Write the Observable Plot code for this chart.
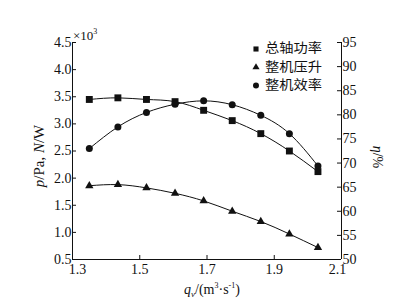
<!DOCTYPE html>
<html>
<head>
<meta charset="utf-8">
<script src="https://cdn.jsdelivr.net/npm/d3@7"></script>
<script src="https://cdn.jsdelivr.net/npm/@observablehq/plot@0.6"></script>
<style>
  html, body { margin: 0; padding: 0; background: #fff; }
  #chart { width: 398px; height: 304px; }
  #chart svg text { font-family: 'Liberation Serif', 'Times New Roman', serif; }
  #chart svg g.legend text { font-family: 'Noto Sans CJK SC', sans-serif; }
</style>
</head>
<body>
<div id="chart"></div>
<script>
// ---- data ----
const flow = [1.35, 1.435, 1.52, 1.605, 1.69, 1.775, 1.86, 1.945, 2.03];          // q_v, m3/s
const shaftPower = [3.45, 3.48, 3.45, 3.41, 3.25, 3.06, 2.82, 2.50, 2.12];         // x10^3 W
const pressureRise = [1.86, 1.88, 1.82, 1.72, 1.58, 1.39, 1.20, 0.97, 0.72];       // x10^3 Pa
const efficiency = [73.0, 77.5, 80.5, 82.2, 82.9, 82.1, 79.9, 76.1, 69.4];         // %
const seriesNames = ["总轴功率", "整机压升", "整机效率"];
const seriesSymbols = ["square", "triangle", "circle"];
const xDomain = [1.3, 2.1];
const xTicks = [1.3, 1.5, 1.7, 1.9, 2.1];
const yDomain = [0.5, 4.5];
const yTicks = [0.5, 1.0, 1.5, 2.0, 2.5, 3.0, 3.5, 4.0, 4.5];
const effDomain = [50, 95];
const effTicks = [50, 55, 60, 65, 70, 75, 80, 85, 90, 95];

// map efficiency onto the left scale
const toLeft = e => yDomain[0] + (e - effDomain[0]) * (yDomain[1] - yDomain[0]) / (effDomain[1] - effDomain[0]);
const fromLeft = v => effDomain[0] + (v - yDomain[0]) * (effDomain[1] - effDomain[0]) / (yDomain[1] - yDomain[0]);

const power = flow.map((q, i) => ({q, v: shaftPower[i]}));
const pres = flow.map((q, i) => ({q, v: pressureRise[i]}));
const eff = flow.map((q, i) => ({q, v: toLeft(efficiency[i])}));

const W = 398, H = 304, mL = 72, mR = 57, mT = 42, mB = 45;
const innerW = W - mL - mR, innerH = H - mT - mB;
const tickLen = 4;
const fmt1 = d3.format(".1f");
const serif = "'Liberation Serif', 'Times New Roman', serif";
const ink = "#111";

const svg = Plot.plot({
  width: W, height: H,
  marginLeft: mL, marginRight: mR, marginTop: mT, marginBottom: mB,
  style: {fontFamily: serif, fontSize: "14px", color: ink, background: "#fff"},
  x: {domain: xDomain, axis: null},
  y: {domain: yDomain, axis: null},
  marks: [
    // axis lines
    Plot.ruleX(xDomain, {stroke: ink, strokeWidth: 1}),
    Plot.ruleY([yDomain[0]], {stroke: ink, strokeWidth: 1}),
    // inward ticks
    Plot.tickX(xTicks.slice(1, -1), {x: d => d, insetTop: innerH - tickLen, stroke: ink}),
    Plot.tickY(yTicks, {y: d => d, insetRight: innerW - tickLen, stroke: ink}),
    Plot.tickY(effTicks.map(toLeft), {y: d => d, insetLeft: innerW - tickLen, stroke: ink}),
    // tick labels
    Plot.axisY(yTicks, {anchor: "left", tickSize: 0, tickPadding: 1, tickFormat: fmt1, label: null, fill: ink, fontFamily: serif}),
    Plot.axisY(effTicks.map(toLeft), {anchor: "right", tickSize: 0, tickPadding: 1, tickFormat: v => String(Math.round(fromLeft(v))), label: null, fill: ink, fontFamily: serif}),
    Plot.axisX(xTicks.slice(1, -1), {anchor: "bottom", tickSize: 0, tickPadding: 5, tickFormat: fmt1, label: null, fill: ink, fontFamily: serif}),
    Plot.axisX([xTicks[0]], {anchor: "bottom", tickSize: 0, tickPadding: 5, dx: 5, tickFormat: fmt1, label: null, fill: ink, fontFamily: serif}),
    Plot.axisX([xTicks[xTicks.length - 1]], {anchor: "bottom", tickSize: 0, tickPadding: 5, dx: -4, tickFormat: fmt1, label: null, fill: ink, fontFamily: serif}),
    // curves
    Plot.line(power, {x: "q", y: "v", curve: "natural", stroke: ink, strokeWidth: 1}),
    Plot.line(pres, {x: "q", y: "v", curve: "natural", stroke: ink, strokeWidth: 1}),
    Plot.line(eff, {x: "q", y: "v", curve: "natural", stroke: ink, strokeWidth: 1}),
    // markers
    Plot.dot(power, {x: "q", y: "v", symbol: "square", r: 3.9, fill: ink, stroke: "none"}),
    Plot.dot(pres, {x: "q", y: "v", symbol: "triangle", r: 3.1, fill: ink, stroke: "none"}),
    Plot.dot(eff, {x: "q", y: "v", symbol: "circle", r: 3.5, fill: ink, stroke: "none"})
  ]
});

const s = d3.select(svg);

// x10^3
const mult = s.append("text").attr("x", mL + 1).attr("y", mT - 2)
  .attr("text-anchor", "start")
  .attr("font-family", serif).attr("font-size", 13).attr("fill", ink);
mult.append("tspan").text("×10");
mult.append("tspan").attr("font-size", 8).attr("dy", -6).text("3");

// left label
const yl = s.append("text").attr("transform", `translate(41,156) rotate(-90)`)
  .attr("text-anchor", "middle").attr("dominant-baseline", "middle")
  .attr("font-family", serif).attr("font-size", 15).attr("fill", ink);
yl.append("tspan").attr("font-style", "italic").text("p");
yl.append("tspan").text("/Pa, ");
yl.append("tspan").attr("font-style", "italic").text("N");
yl.append("tspan").text("/W");

// right label
const rl = s.append("text").attr("transform", `translate(376,157) rotate(90)`)
  .attr("text-anchor", "middle").attr("dominant-baseline", "middle")
  .attr("font-family", serif).attr("font-size", 14).attr("fill", ink);
rl.append("tspan").attr("font-style", "italic").text("η");
rl.append("tspan").text("/%");

// x label
const xl = s.append("text").attr("x", 212).attr("y", 294)
  .attr("text-anchor", "middle")
  .attr("font-family", serif).attr("font-size", 14).attr("fill", ink);
xl.append("tspan").attr("font-style", "italic").text("q");
xl.append("tspan").attr("font-size", 9).attr("dy", 3).attr("font-style", "italic").text("v");
xl.append("tspan").attr("dy", -3).text("/(m");
xl.append("tspan").attr("font-size", 8).attr("dy", -6).text("3");
xl.append("tspan").attr("dy", 6).text("·s");
xl.append("tspan").attr("font-size", 8).attr("dy", -6).text("-1");
xl.append("tspan").attr("dy", 6).text(")");

// legend
const lg = s.append("g").attr("class", "legend");
const sizes = [26, 22, 28];
const symMap = {square: d3.symbolSquare, triangle: d3.symbolTriangle, circle: d3.symbolCircle};
seriesNames.forEach((name, i) => {
  const y = 49 + i * 18.3;
  lg.append("path").attr("transform", `translate(256,${y})`)
    .attr("d", d3.symbol(symMap[seriesSymbols[i]], sizes[i])()).attr("fill", ink);
  lg.append("text").attr("x", 265).attr("y", y).attr("text-anchor", "start")
    .attr("dominant-baseline", "middle")
    .attr("font-family", "'Noto Sans CJK SC', sans-serif").attr("font-size", 12.6)
    .attr("textLength", 57).attr("lengthAdjust", "spacingAndGlyphs").attr("fill", ink)
    .text(name);
});

document.getElementById("chart").appendChild(svg);
</script>
</body>
</html>
